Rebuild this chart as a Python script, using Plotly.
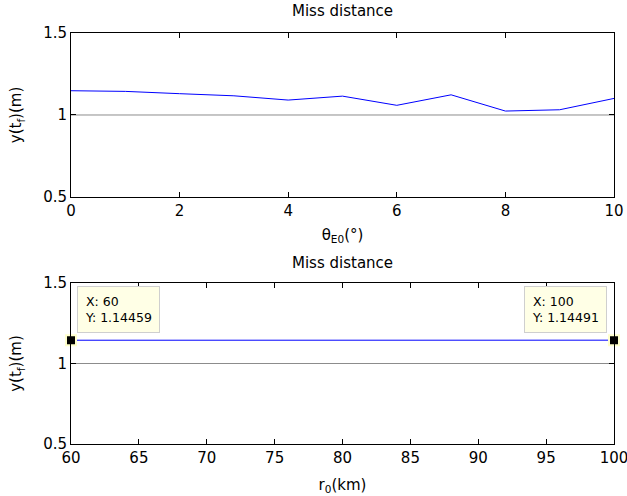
import plotly.graph_objects as go

# Top panel data
theta_e0 = [0, 1, 2, 3, 4, 5, 6, 7, 8, 9, 10]
miss_theta = [1.148, 1.144, 1.130, 1.117, 1.091, 1.115, 1.059, 1.123, 1.024, 1.032, 1.101]

# Bottom panel data
r0 = [60, 65, 70, 75, 76, 78, 80, 85, 90, 95, 100]
miss_r0 = [1.14459, 1.14455, 1.14450, 1.1440, 1.1438, 1.1470, 1.1472, 1.1472, 1.1471, 1.1470, 1.14491]

ref_level = 1.0
tip_points = [(60, 1.14459), (100, 1.14491)]
tip_texts = ["X: 60<br>Y: 1.14459", "X: 100<br>Y: 1.14491"]

font_family = "DejaVu Sans, Liberation Sans, Arial, sans-serif"

fig = go.Figure()

fig.add_trace(go.Scatter(x=[theta_e0[0], theta_e0[-1]], y=[ref_level, ref_level], mode="lines",
                         line=dict(color="#8c8c8c", width=1), xaxis="x", yaxis="y", showlegend=False))
fig.add_trace(go.Scatter(x=theta_e0, y=miss_theta, mode="lines",
                         line=dict(color="#0000ff", width=1), xaxis="x", yaxis="y", showlegend=False))

fig.add_trace(go.Scatter(x=[r0[0], r0[-1]], y=[ref_level, ref_level], mode="lines",
                         line=dict(color="#8c8c8c", width=1), xaxis="x2", yaxis="y2", showlegend=False))
fig.add_trace(go.Scatter(x=r0, y=miss_r0, mode="lines",
                         line=dict(color="#0000ff", width=1), xaxis="x2", yaxis="y2", showlegend=False))
fig.add_trace(go.Scatter(x=[p[0] for p in tip_points], y=[p[1] for p in tip_points], mode="markers",
                         marker=dict(symbol="square", size=10, color="black",
                                     line=dict(color="#ffffcc", width=2)),
                         xaxis="x2", yaxis="y2", showlegend=False, cliponaxis=False))

axis_common = dict(showline=True, linecolor="black", linewidth=1, mirror="ticks",
                   ticks="inside", ticklen=5, tickcolor="black", showgrid=False, zeroline=False,
                   automargin=False, ticklabeloverflow="allow",
                   tickfont=dict(family=font_family, size=15, color="black"))

ylabel = "y(t<sub>f</sub>)(m)"

fig.update_layout(
    width=627, height=496,
    margin=dict(l=71, r=13, t=33, b=52),
    paper_bgcolor="white", plot_bgcolor="white",
    font=dict(family=font_family, color="black"),
    xaxis=dict(domain=[0, 1], range=[0, 10], tickvals=[0, 2, 4, 6, 8, 10], anchor="y",
               title=dict(text="θ<sub>E0</sub>(°)", font=dict(size=15), standoff=10), **axis_common),
    yaxis=dict(domain=[0.601, 1], range=[0.5, 1.5], tickvals=[0.5, 1, 1.5], ticktext=["0.5", "1", "1.5"],
               anchor="x", title=dict(text=ylabel, font=dict(size=15), standoff=17), **axis_common),
    xaxis2=dict(domain=[0, 1], range=[60, 100], tickvals=[60, 65, 70, 75, 80, 85, 90, 95, 100], anchor="y2",
                title=dict(text="r<sub>0</sub>(km)", font=dict(size=15), standoff=13), **axis_common),
    yaxis2=dict(domain=[0, 0.3917], range=[0.5, 1.5], tickvals=[0.5, 1, 1.5], ticktext=["0.5", "1", "1.5"],
                anchor="x2", title=dict(text=ylabel, font=dict(size=15), standoff=17), **axis_common),
    annotations=[
        dict(text="Miss distance", xref="paper", yref="paper", x=0.5, y=1.0, yshift=11,
             xanchor="center", yanchor="bottom", showarrow=False, font=dict(size=15)),
        dict(text="Miss distance", xref="paper", yref="paper", x=0.5, y=0.3917, yshift=9,
             xanchor="center", yanchor="bottom", showarrow=False, font=dict(size=15)),
        dict(text=tip_texts[0], xref="x2", yref="y2", x=tip_points[0][0], y=tip_points[0][1],
             xanchor="left", yanchor="bottom", xshift=6, yshift=7, showarrow=False, align="left",
             bgcolor="#ffffe6", bordercolor="#cfcfcf", borderwidth=1, borderpad=7,
             font=dict(size=12.5, color="black")),
        dict(text=tip_texts[1], xref="x2", yref="y2", x=tip_points[1][0], y=tip_points[1][1],
             xanchor="right", yanchor="bottom", xshift=-7, yshift=7, showarrow=False, align="left",
             bgcolor="#ffffe6", bordercolor="#cfcfcf", borderwidth=1, borderpad=7,
             font=dict(size=12.5, color="black")),
    ],
)

fig.write_html("out.html", config={"displayModeBar": False},
               post_script="document.body.style.margin='0px';")
